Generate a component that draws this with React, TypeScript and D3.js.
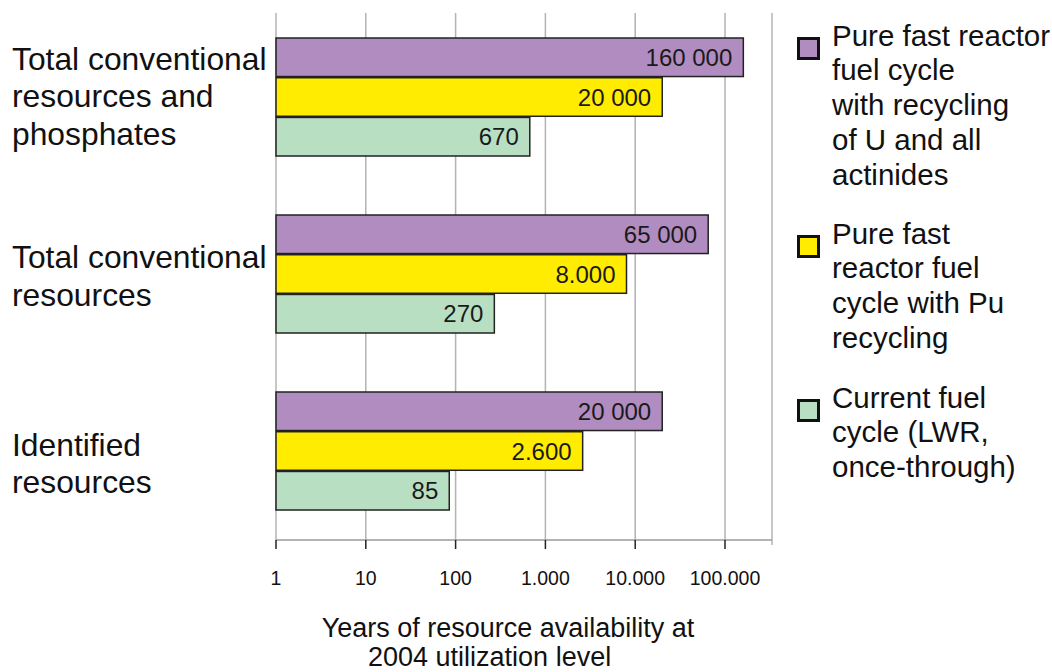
import React from "react";
import * as d3 from "d3";

const categories = [
  "Total conventional resources and phosphates",
  "Total conventional resources",
  "Identified resources",
];
const categoryLines = [
  ["Total conventional", "resources and", "phosphates"],
  ["Total conventional", "resources"],
  ["Identified", "resources"],
];
const seriesKeys = ["fastAll", "fastPu", "current"];
const seriesNames = [
  ["Pure fast reactor", "fuel cycle", "with recycling", "of U and all", "actinides"],
  ["Pure fast", "reactor fuel", "cycle with Pu", "recycling"],
  ["Current fuel", "cycle (LWR,", "once-through)"],
];
const fastAllValues = [160000, 65000, 20000];
const fastPuValues = [20000, 8000, 2600];
const currentValues = [670, 270, 85];
const fastAllLabels = ["160 000", "65 000", "20 000"];
const fastPuLabels = ["20 000", "8.000", "2.600"];
const currentLabels = ["670", "270", "85"];
const tickValues = [1, 10, 100, 1000, 10000, 100000];
const tickLabels = ["1", "10", "100", "1.000", "10.000", "100.000"];
const axisTitle = ["Years of resource availability at", "2004 utilization level"];

const colors = ["#b18cc0", "#ffec00", "#b9dfc3"];
const FONT = "Liberation Sans, Arial, Helvetica, sans-serif";

export default function App() {
  const W = 1052;
  const H = 672;
  const plotTop = 13;
  const plotBottom = 540;
  const plotRight = 772;

  const x = d3.scaleLog().domain([1, 100000]).range([276, 725]);
  const y = d3.scaleBand<string>().domain(categories).range([8.5, 539.5]).padding(0);
  const inner = d3
    .scaleBand<string>()
    .domain(seriesKeys)
    .range([-59, 59])
    .paddingInner(0.03);

  const seriesValues = [fastAllValues, fastPuValues, currentValues];
  const seriesLabels = [fastAllLabels, fastPuLabels, currentLabels];
  const labelShift = [0, 3, 13.5];
  const catLH = 37.5;
  const legLH = 34.8;
  const legendTop = [45.5, 243.5, 407.5];

  return (
    <svg
      width={W}
      height={H}
      style={{ position: "absolute", left: 0, top: 0, background: "#fff" }}
      fontFamily={FONT}
    >
      <rect x={0} y={0} width={W} height={H} fill="#fff" />
      {/* grid */}
      {tickValues.map((t) => (
        <line
          key={"g" + t}
          x1={x(t)}
          x2={x(t)}
          y1={plotTop}
          y2={plotBottom}
          stroke="#b3b3b3"
          strokeWidth={1.5}
        />
      ))}
      <line x1={plotRight} x2={plotRight} y1={plotTop} y2={plotBottom + 5} stroke="#b3b3b3" strokeWidth={1.5} />
      <line x1={x(1)} x2={plotRight} y1={plotBottom} y2={plotBottom} stroke="#9a9a9a" strokeWidth={1.5} />
      {tickValues.map((t, i) => (
        <g key={"t" + t}>
          <line x1={x(t)} x2={x(t)} y1={plotBottom} y2={plotBottom + 9} stroke="#222" strokeWidth={1.5} />
          <text x={x(t)} y={585} textAnchor="middle" fontSize={19.5} fill="#111">
            {tickLabels[i]}
          </text>
        </g>
      ))}
      {/* bars */}
      {categories.map((c, ci) => {
        const cy = (y(c) as number) + y.bandwidth() / 2;
        return (
          <g key={c}>
            {seriesKeys.map((s, si) => {
              const v = seriesValues[si][ci];
              const by = cy + (inner(s) as number);
              const bh = inner.bandwidth();
              const x0 = x(1);
              const x1 = x(v);
              return (
                <g key={s}>
                  <rect
                    x={x0}
                    y={by}
                    width={x1 - x0}
                    height={bh}
                    fill={colors[si]}
                    stroke="#222"
                    strokeWidth={1.5}
                  />
                  <text
                    x={x1 - 11}
                    y={by + bh / 2 + 8.5}
                    textAnchor="end"
                    fontSize={24}
                    fill="#1a1a1a"
                  >
                    {seriesLabels[si][ci]}
                  </text>
                </g>
              );
            })}
            {categoryLines[ci].map((line, li) => (
              <text
                key={li}
                x={12}
                y={cy - ((categoryLines[ci].length - 1) * catLH) / 2 + 10 + labelShift[ci] + li * catLH}
                fontSize={31.8}
                fill="#111"
              >
                {line}
              </text>
            ))}
          </g>
        );
      })}
      {/* legend */}
      {seriesNames.map((lines, si) => (
        <g key={"l" + si}>
          <rect
            x={798.5}
            y={legendTop[si] - 7}
            width={20}
            height={20}
            fill={colors[si]}
            stroke="#111"
            strokeWidth={3}
          />
          {lines.map((ln, li) => (
            <text key={li} x={832} y={legendTop[si] + li * legLH} fontSize={29.5} fill="#111">
              {ln}
            </text>
          ))}
        </g>
      ))}
      {/* axis title */}
      <text x={508} y={637} textAnchor="middle" fontSize={27} fill="#111">
        {axisTitle[0]}
      </text>
      <text x={368} y={666} textAnchor="start" fontSize={27} fill="#111">
        {axisTitle[1]}
      </text>
    </svg>
  );
}
